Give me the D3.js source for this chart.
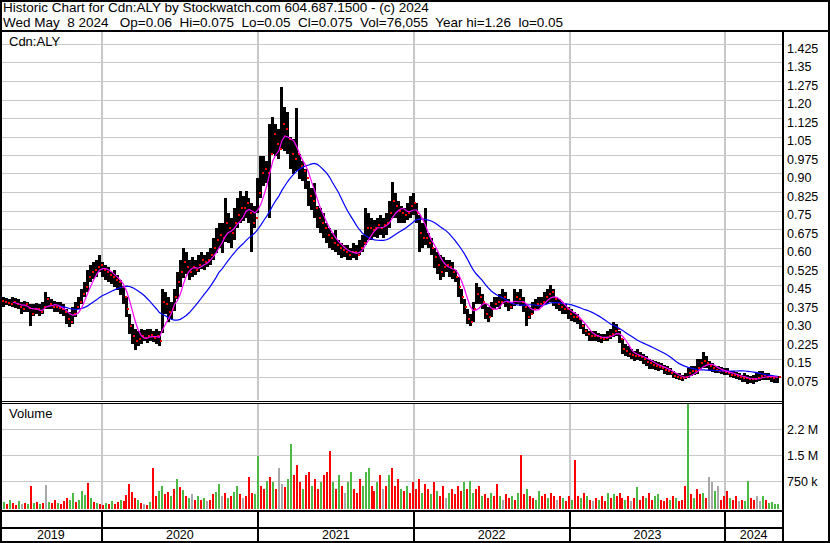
<!DOCTYPE html>
<html><head><meta charset="utf-8">
<script src="https://cdn.jsdelivr.net/npm/d3@7"></script>
<style>
html,body{margin:0;padding:0;background:#fff}
svg{display:block}
text{font-family:"Liberation Sans",Arial,sans-serif;fill:#000}
</style>
</head><body>
<svg id="c" width="830" height="543"></svg>
<script>
// ---------------- DATA ----------------
const headerLine1 = "Historic Chart for Cdn:ALY by Stockwatch.com 604.687.1500 - (c) 2024";
const headerLine2 = "Wed May  8 2024   Op=0.06  Hi=0.075  Lo=0.05  Cl=0.075  Vol=76,055  Year hi=1.26  lo=0.05";
const symbolLabel = "Cdn:ALY";
const volumeLabel = "Volume";
const firstWeek = "2019-05-10";
const lastDay = "2024-05-08";

const weekHigh = [
.40,.40,.395,.39,.40,.395,.39,.38,.385,.38,
.37,.37,.375,.37,.38,.42,.40,.39,.385,.38,
.38,.37,.35,.34,.36,.38,.40,.43,.46,.51,
.53,.54,.55,.57,.54,.53,.52,.50,.51,.49,
.47,.44,.40,.33,.29,.27,.26,.27,.265,.27,
.27,.26,.27,.26,.43,.42,.40,.38,.43,.50,
.55,.60,.58,.55,.56,.55,.57,.58,.57,.58,
.60,.64,.68,.70,.70,.80,.74,.72,.76,.80,
.83,.81,.83,.80,.78,.77,.88,.97,.97,.95,
1.10,1.13,1.10,1.08,1.25,1.17,1.15,1.05,1.04,1.165,
.98,.95,.92,.87,.84,.86,.77,.76,.74,.70,
.68,.66,.67,.63,.62,.61,.61,.60,.62,.61,
.63,.65,.76,.74,.72,.71,.72,.73,.72,.74,
.79,.865,.82,.79,.77,.76,.78,.81,.82,.78,
.73,.70,.76,.66,.64,.60,.58,.57,.56,.55,
.55,.54,.51,.48,.43,.39,.35,.33,.38,.455,
.44,.41,.37,.36,.38,.40,.40,.41,.43,.42,
.39,.38,.43,.42,.43,.40,.37,.36,.38,.39,
.40,.40,.42,.43,.45,.43,.40,.39,.38,.37,
.36,.35,.34,.33,.31,.29,.27,.26,.26,.26,
.255,.25,.25,.26,.27,.30,.29,.26,.23,.21,
.20,.19,.18,.19,.175,.17,.16,.15,.145,.14,
.135,.13,.125,.12,.11,.10,.09,.09,.085,.09,
.11,.12,.12,.15,.15,.175,.16,.14,.13,.12,
.12,.115,.11,.11,.10,.10,.095,.09,.085,.09,
.085,.08,.085,.09,.10,.10,.09,.09,.085,.08,
.08];

const weekLow = [
.37,.36,.365,.36,.36,.355,.35,.33,.34,.34,
.28,.32,.33,.32,.33,.35,.35,.35,.34,.34,
.33,.32,.29,.28,.29,.32,.35,.37,.40,.42,
.46,.47,.48,.50,.48,.47,.46,.45,.44,.43,
.41,.37,.32,.25,.21,.185,.20,.21,.22,.215,
.22,.215,.21,.20,.25,.33,.30,.31,.34,.39,
.44,.48,.49,.47,.48,.49,.50,.51,.51,.52,
.53,.55,.58,.60,.58,.62,.62,.60,.63,.68,
.70,.71,.72,.70,.58,.68,.74,.80,.85,.86,
.72,.98,.97,.96,1.00,.99,.98,.92,.90,.91,
.88,.87,.84,.77,.75,.72,.68,.66,.64,.62,
.60,.59,.58,.57,.56,.56,.55,.55,.56,.55,
.57,.58,.61,.63,.63,.64,.64,.65,.64,.65,
.68,.72,.72,.70,.70,.70,.71,.72,.73,.70,
.58,.60,.61,.60,.57,.52,.49,.47,.48,.50,
.48,.47,.46,.40,.37,.33,.29,.28,.30,.37,
.37,.35,.31,.30,.32,.35,.36,.35,.37,.36,
.34,.35,.36,.37,.36,.34,.28,.31,.33,.35,
.35,.36,.37,.37,.38,.36,.35,.34,.33,.33,
.31,.30,.30,.29,.27,.25,.24,.22,.22,.22,
.22,.215,.22,.22,.23,.24,.24,.21,.17,.16,
.155,.15,.14,.145,.14,.13,.12,.11,.11,.105,
.10,.10,.09,.085,.08,.07,.065,.06,.06,.065,
.07,.08,.085,.09,.11,.11,.11,.10,.095,.09,
.09,.085,.08,.08,.075,.07,.065,.06,.055,.055,
.05,.05,.05,.055,.06,.065,.06,.06,.055,.05,
.05];

const weekClose = [
.385,.38,.375,.37,.38,.37,.36,.35,.37,.355,
.33,.35,.35,.34,.36,.39,.37,.36,.36,.355,
.35,.34,.31,.30,.33,.36,.38,.41,.44,.48,
.50,.51,.52,.53,.51,.50,.49,.48,.47,.46,
.44,.40,.35,.28,.24,.22,.23,.24,.235,.24,
.245,.235,.24,.22,.38,.37,.34,.35,.40,.46,
.50,.54,.52,.50,.52,.51,.53,.55,.54,.55,
.57,.60,.63,.65,.64,.70,.68,.66,.70,.73,
.76,.76,.78,.74,.70,.72,.82,.90,.92,.90,
.98,1.06,1.02,1.00,1.10,1.08,1.04,.98,.96,.98,
.93,.91,.88,.81,.79,.76,.72,.70,.68,.65,
.64,.62,.61,.60,.59,.58,.57,.58,.58,.57,
.60,.62,.68,.68,.67,.68,.69,.68,.69,.70,
.74,.79,.77,.75,.74,.73,.74,.77,.78,.74,
.66,.64,.64,.62,.60,.56,.53,.50,.52,.53,
.52,.50,.48,.44,.40,.36,.31,.30,.35,.41,
.40,.38,.33,.32,.35,.37,.38,.38,.40,.38,
.36,.37,.40,.39,.38,.36,.32,.33,.35,.37,
.37,.38,.40,.41,.42,.39,.37,.36,.35,.35,
.33,.32,.32,.31,.28,.26,.25,.24,.24,.24,
.235,.23,.235,.24,.25,.26,.27,.23,.19,.18,
.17,.165,.16,.16,.155,.15,.135,.13,.125,.12,
.115,.11,.105,.10,.09,.08,.075,.07,.07,.075,
.09,.10,.10,.11,.13,.14,.13,.12,.11,.105,
.10,.10,.095,.09,.085,.085,.08,.075,.07,.07,
.065,.065,.065,.07,.08,.085,.075,.075,.07,.075,
.075];

// weekly volume, thousands of shares
const weekVolume = [
80,120,60,200,90,50,150,70,110,60,
600,90,140,70,100,620,130,90,200,110,
70,150,240,180,380,120,200,450,330,690,
250,120,90,60,40,100,80,150,60,120,
200,150,330,650,420,250,180,100,70,50,
120,1100,300,450,580,350,420,300,500,780,
560,480,300,250,350,200,300,180,250,150,
200,350,420,650,300,380,250,300,420,600,
350,250,300,850,400,350,1450,600,500,750,
850,700,500,1100,650,550,800,1800,900,1200,
700,500,900,1000,600,800,500,700,900,1000,
1600,700,500,900,600,400,700,1000,500,400,
800,600,1000,1100,600,450,700,900,500,600,
900,1100,600,800,500,450,600,400,700,500,
800,400,650,500,350,700,450,300,600,250,
400,500,350,600,450,700,500,750,400,500,
600,300,350,250,400,300,650,300,200,350,
250,300,200,400,1500,350,500,300,250,200,
450,300,350,250,400,300,200,300,250,150,
300,200,1350,300,250,400,300,200,150,250,
200,300,150,400,250,350,300,400,250,200,
300,150,250,550,200,300,250,400,200,300,
350,200,150,250,200,300,250,150,200,600,
3200,350,250,500,350,400,250,850,700,450,
600,200,300,450,250,200,300,150,200,150,
750,250,200,300,150,300,200,100,120,80,
76];

// g = up, r = down, n = unchanged
const weekDir =
"rgrgrrgnrg" + "rgrgrngrrg" + "rrrggrgggr" + "grgrrgrgrr" + "grrrrrgrnr" +
"grrggrrgrg" + "rgrgnrgrgn" + "rrggnrgrgg" + "rnrrrggrrg" + "rgrnnrggrr" +
"rgrrgrrgrr" + "rgrgrnggrr" + "rgggrrgrnr" + "grrrgrgrrr" + "rgrrgrgrrn" +
"grrrrgrggr" + "rgrrgrrgnr" + "rgrgrrgrrg" + "grrgrrnrgr" + "rgrrgrgrnr" +
"grrgrgrrrg" + "rnrgrrgrrg" + "grrrgrgrrr" + "grgrrgrnng" + "nrrrgrrnrg" +
"grrnngrggg" + "g";

const priceTicks = ["1.425","1.35","1.275","1.20","1.125","1.05","0.975","0.90","0.825","0.75",
  "0.675","0.60","0.525","0.45","0.375","0.30","0.225","0.15","0.075"];
const volTickValues = [750, 1500, 2250];
const volTickLabels = ["750 k", "1.5 M", "2.2 M"];
const yearLabels = ["2019","2020","2021","2022","2023","2024"];
const shortMA = 5, longMA = 20;

// ---------------- DRAW ----------------
const W = 830, H = 543;
const plotL = 2, plotR = 781, axisX = 782;
const priceTop = 32, priceBot = 400, volTop = 404, volBot = 509;
const svg = d3.select("#c");
const parse = d3.utcParse("%Y-%m-%d");
const start = parse(firstWeek), end = parse(lastDay);
const n = Math.min(weekHigh.length, weekLow.length, weekClose.length, weekVolume.length, weekDir.length);
const dates = d3.range(n).map(i => d3.utcDay.offset(start, 7 * i));

const x = d3.scaleUtc().domain([start, end]).range([1, 780]);
const y = d3.scaleLinear().domain([0.075, 1.425]).range([377, 44]);
const yv = d3.scaleLinear().domain([0, 2250]).range([506.5, 428.5]);

svg.append("rect").attr("width", W).attr("height", H).attr("fill", "#fff");

const defs = svg.append("defs");
defs.append("clipPath").attr("id", "cp").append("rect")
  .attr("x", plotL).attr("y", priceTop).attr("width", plotR - plotL + 1).attr("height", priceBot - priceTop);
defs.append("clipPath").attr("id", "cv").append("rect")
  .attr("x", plotL).attr("y", volTop).attr("width", plotR - plotL + 1).attr("height", volBot - volTop);

const grid = "#c8c8c8";
const yearBounds = yearLabels.slice(1).map(yr => new Date(Date.UTC(+yr, 0, 1)));

// gridlines
const pg = svg.append("g").attr("shape-rendering", "crispEdges");
priceTicks.forEach(t => {
  const yy = Math.round(y(+t)) + 0.5;
  pg.append("line").attr("x1", plotL).attr("x2", axisX).attr("y1", yy).attr("y2", yy)
    .attr("stroke", grid).attr("stroke-width", 1);
});
volTickValues.forEach(v => {
  const yy = Math.round(yv(v)) + 0.5;
  pg.append("line").attr("x1", plotL).attr("x2", axisX).attr("y1", yy).attr("y2", yy)
    .attr("stroke", grid).attr("stroke-width", 1);
});
yearBounds.forEach(d => {
  const xx = Math.round(x(d));
  pg.append("line").attr("x1", xx).attr("x2", xx).attr("y1", priceTop).attr("y2", priceBot)
    .attr("stroke", grid).attr("stroke-width", 2);
  pg.append("line").attr("x1", xx).attr("x2", xx).attr("y1", volTop).attr("y2", volBot)
    .attr("stroke", grid).attr("stroke-width", 2);
});

// price bars
const pb = svg.append("g").attr("clip-path", "url(#cp)").attr("shape-rendering", "crispEdges");
const idx = d3.range(n);
pb.selectAll("rect.bar").data(idx).join("rect").attr("class", "bar")
  .attr("x", i => Math.round(x(dates[i]) - 1.5))
  .attr("width", 3)
  .attr("y", i => Math.round(y(weekHigh[i])))
  .attr("height", i => Math.max(1, Math.round(y(weekLow[i]) - y(weekHigh[i]))))
  .attr("fill", "#000");
pb.selectAll("rect.cl").data(idx).join("rect").attr("class", "cl")
  .attr("x", i => Math.round(x(dates[i])) + 1)
  .attr("width", 2)
  .attr("y", i => Math.round(y(weekClose[i])) - 1)
  .attr("height", 2)
  .attr("fill", "#ff0000");

// moving averages from closes
function sma(k) {
  return idx.map(i => i < k - 1 ? null : d3.mean(weekClose.slice(i - k + 1, i + 1)));
}
const maS = sma(shortMA), maL = sma(longMA);
const lineGen = arr => d3.line().x(d => x(dates[d.i])).y(d => y(d.v))(
  idx.filter(i => arr[i] != null).map(i => ({ i, v: arr[i] })));
const mg = svg.append("g").attr("clip-path", "url(#cp)");
mg.append("path").attr("d", lineGen(maL)).attr("fill", "none").attr("stroke", "#0000ff").attr("stroke-width", 1.2);
mg.append("path").attr("d", lineGen(maS)).attr("fill", "none").attr("stroke", "#ff00ff").attr("stroke-width", 1.2);

// volume bars
const dirColor = { g: "#4cb944", r: "#ff0000", n: "#a8a8a8" };
const vb = svg.append("g").attr("clip-path", "url(#cv)").attr("shape-rendering", "crispEdges");
vb.selectAll("rect").data(idx).join("rect")
  .attr("x", i => Math.round(x(dates[i]) - 1))
  .attr("width", 2)
  .attr("y", i => Math.round(yv(weekVolume[i])))
  .attr("height", i => volBot - Math.round(yv(weekVolume[i])))
  .attr("fill", i => dirColor[weekDir[i]]);

// frame lines
const fr = svg.append("g").attr("stroke", "#000").attr("shape-rendering", "crispEdges");
fr.append("rect").attr("x", 1).attr("y", 1).attr("width", W - 2).attr("height", H - 2)
  .attr("fill", "none").attr("stroke-width", 2);
fr.append("line").attr("x1", 0).attr("x2", W).attr("y1", 31).attr("y2", 31).attr("stroke-width", 2);
fr.append("line").attr("x1", axisX + 1).attr("x2", axisX + 1).attr("y1", 31).attr("y2", H).attr("stroke-width", 2);
fr.append("line").attr("x1", 0).attr("x2", axisX).attr("y1", 401).attr("y2", 401).attr("stroke-width", 1);
fr.append("line").attr("x1", 0).attr("x2", axisX).attr("y1", 403).attr("y2", 403).attr("stroke-width", 1);
fr.append("line").attr("x1", 0).attr("x2", axisX).attr("y1", 511).attr("y2", 511).attr("stroke-width", 2);
fr.append("line").attr("x1", 0).attr("x2", axisX).attr("y1", 528).attr("y2", 528).attr("stroke-width", 2);
yearBounds.forEach(d => {
  const xx = Math.round(x(d));
  fr.append("line").attr("x1", xx).attr("x2", xx).attr("y1", 510).attr("y2", H).attr("stroke-width", 2);
});

// header text
svg.append("text").attr("x", 3).attr("y", 12).attr("font-size", 13.5).style("white-space", "pre").text(headerLine1);
svg.append("text").attr("x", 3).attr("y", 27).attr("font-size", 13.5).style("white-space", "pre").text(headerLine2);
svg.append("text").attr("x", 9).attr("y", 46).attr("font-size", 13).text(symbolLabel);
svg.append("text").attr("x", 9).attr("y", 418).attr("font-size", 13).text(volumeLabel);

// axes
const ax = svg.append("g").attr("transform", `translate(${axisX},0)`)
  .call(d3.axisRight(y).tickValues(priceTicks.map(Number)).tickFormat((d, i) => priceTicks[i]).tickSize(0).tickPadding(5));
ax.select(".domain").remove();
ax.selectAll("text").attr("dy", 8.3).attr("font-size", 12.5).attr("font-family", '"Liberation Sans",Arial,sans-serif').attr("fill", "#000");

const av = svg.append("g").attr("transform", `translate(${axisX},0)`)
  .call(d3.axisRight(yv).tickValues(volTickValues).tickFormat((d, i) => volTickLabels[i]).tickSize(0).tickPadding(5));
av.select(".domain").remove();
av.selectAll("text").attr("dy", 4.5).attr("font-size", 12.5).attr("font-family", '"Liberation Sans",Arial,sans-serif').attr("fill", "#000");

// year labels
const bx = [0].concat(yearBounds.map(d => x(d))).concat([axisX]);
yearLabels.forEach((lab, i) => {
  svg.append("text").attr("x", (bx[i] + bx[i + 1]) / 2).attr("y", 538.5).attr("text-anchor", "middle")
    .attr("font-size", 12.5).text(lab);
});
</script>
</body></html>
